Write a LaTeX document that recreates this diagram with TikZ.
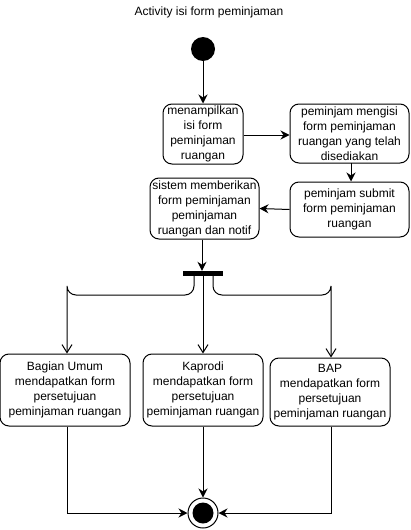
\documentclass[tikz,border=0pt]{standalone}
\usepackage{fontspec}
\setmainfont{Liberation Sans}
\usetikzlibrary{arrows.meta}
\begin{document}
\begin{tikzpicture}[x=1pt,y=-1pt,
  every node/.style={font=\fontsize{12}{15}\selectfont},
  actbox/.style={draw,rounded corners=9pt,line width=1pt,inner sep=0pt,align=center},
  flow/.style={draw,line width=1pt,-{Stealth[length=9pt,width=9pt]}},
  fork/.style={draw,line width=1pt,rounded corners=9pt,-{Straight Barb[length=8pt,width=10pt]}}]
\useasboundingbox (0,0) rectangle (411,530);
\node (title) at (209,12) {Activity isi form peminjaman};
\node (start) [circle,fill=black,minimum size=24pt,inner sep=0pt] at (203,49) {};
\node (b1) [actbox,minimum width=80pt,minimum height=60pt] at (203,134) {menampilkan\\isi form\\peminjaman\\ruangan};
\node (b2) [actbox,minimum width=119pt,minimum height=59pt] at (349.5,133.5) {peminjam mengisi\\form peminjaman\\ruangan yang telah\\disediakan};
\node (b3) [actbox,minimum width=119pt,minimum height=55pt] at (349.5,209.5) {peminjam submit\\form peminjaman\\ruangan};
\node (b4) [actbox,minimum width=109pt,minimum height=61pt] at (204.5,208.5) {sistem memberikan\\form peminjaman\\peminjaman\\ruangan dan notif};
\node (bar) [fill=black,minimum width=40pt,minimum height=5pt,inner sep=0pt] at (203,273.5) {};
\node (b5) [actbox,minimum width=130pt,minimum height=72pt] at (65,390) {Bagian Umum\\mendapatkan form\\persetujuan\\peminjaman ruangan};
\node (b6) [actbox,minimum width=120pt,minimum height=72pt] at (203,390) {Kaprodi\\mendapatkan form\\persetujuan\\peminjaman ruangan};
\node (b7) [actbox,minimum width=120pt,minimum height=68pt] at (330,392) {BAP\\mendapatkan form\\persetujuan\\peminjaman ruangan};
\node (end) [circle,draw,line width=1pt,minimum size=30pt,inner sep=0pt] at (203,513) {};
\fill (end.center) circle (10.5);
\coordinate (fl) at (194,276);
\coordinate (fr) at (213,276);
\path[flow] (start) -- (b1);
\path[flow] (b1.east |- 0,135) -- (b2.west |- 0,135);
\path[flow] (351,163) -- (b3.north -| 351,0);
\path[flow] (b3.west) -- (b4.east);
\path[flow] (b4.south -| 202,0) -- (bar.north -| 202,0);
\path[fork] (fl) |- (67,295) -| (b5.north -| 67,0);
\path[fork] (bar.south) -- (b6.north);
\path[fork] (fr) |- (331,295) -| (b7.north -| 331,0);
\path[flow] (b5.south -| 67,0) |- (end.west);
\path[flow] (b6.south) -- (end.north);
\path[flow] (b7.south -| 331,0) |- (end.east);
\end{tikzpicture}
\end{document}
